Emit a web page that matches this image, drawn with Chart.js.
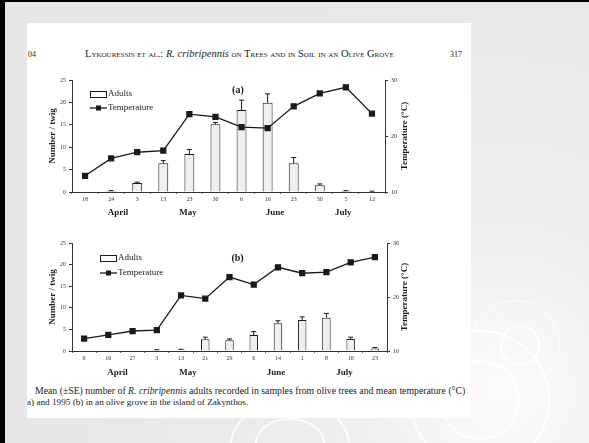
<!DOCTYPE html>
<html>
<head>
<meta charset="utf-8">
<script src="https://cdn.jsdelivr.net/npm/chart.js@4.4.1/dist/chart.umd.min.js"></script>
<style>
html, body { margin: 0; padding: 0; }
body {
    width: 589px; height: 443px; overflow: hidden; position: relative;
    background: radial-gradient(circle at 500px 390px, #fbfbfb 0, #eeeeee 170px, #e7e7e7 420px);
    font-family: "Liberation Serif", serif; color: #222;
}
#frame { position: absolute; left: 0; top: 0; width: 589px; height: 443px; box-sizing: border-box;
         border-left: 5px solid #000; border-top: 2px solid #000; }
.ring { position: absolute; border-radius: 50%; border: 2px solid rgba(255,255,255,0.85); box-sizing: border-box; }
#page { position: absolute; left: 27px; top: 23px; width: 444px; height: 395px; background: #fff; }
canvas { position: absolute; }
.t { position: absolute; white-space: nowrap; font-size: 9.2px; line-height: 10px; color: #222; }
.sc { font-variant: small-caps; }
</style>
</head>
<body>
<div class="ring" style="left:410px;top:330px;width:140px;height:140px;"></div>
<div class="ring" style="left:440px;top:360px;width:80px;height:80px;"></div>
<div class="ring" style="left:470px;top:300px;width:90px;height:90px;border-width:1px;"></div>
<div class="ring" style="left:500px;top:325px;width:40px;height:40px;"></div>
<div class="ring" style="left:230px;top:400px;width:120px;height:90px;"></div>
<div class="ring" style="left:255px;top:418px;width:70px;height:50px;"></div>
<div id="page"></div>
<div id="frame"></div>

<div class="t" style="left:28px;top:50px;font-size:8px;">04</div>
<div class="t sc" style="left:85px;top:49px;font-size:10.5px;">Lykouressis et al.: <i style="font-variant:normal">R. cribripennis</i> on Trees and in Soil in an Olive Grove</div>
<div class="t" style="left:450px;top:50px;font-size:8px;">317</div>

<canvas id="chartA" width="380" height="152" style="left:40px;top:68px;"></canvas>
<canvas id="chartB" width="380" height="150" style="left:40px;top:231px;"></canvas>

<div class="t" style="left:35px;top:386px;font-size:9.75px;">Mean (±SE) number of <i>R. cribripennis</i> adults recorded in samples from olive trees and mean temperature (°C)</div>
<div class="t" style="left:27px;top:397px;">a) and 1995 (b) in an olive grove in the island of Zakynthos.</div>

<script>
// (a) first year
const datesA = ['18', '24', '3', '13', '23', '30', '6', '16', '23', '30', '5', '12'];
const adultsA = [0, 0.2, 2.0, 6.4, 8.5, 15.1, 18.3, 19.9, 6.4, 1.5, 0.2, 0.1];
const errA = [0, 0.1, 0.2, 0.6, 1.0, 0.4, 2.2, 2.0, 1.3, 0.3, 0.1, 0.1];
const tempA = [12.9, 16.0, 17.1, 17.4, 23.9, 23.4, 21.6, 21.4, 25.3, 27.6, 28.7, 24.0];
const monthAtA = [1.26, 3.95, 7.28, 9.9];

// (b) 1995
const datesB = ['9', '16', '27', '3', '13', '21', '29', '6', '14', '1', '8', '16', '23'];
const adultsB = [0, 0, 0, 0.2, 0.3, 2.7, 2.5, 3.7, 6.4, 7.2, 7.7, 2.8, 0.6];
const errB = [0, 0, 0, 0.1, 0.1, 0.5, 0.3, 0.8, 0.6, 0.7, 1.0, 0.4, 0.2];
const tempB = [12.3, 13.0, 13.7, 13.85, 20.3, 19.7, 23.7, 22.3, 25.5, 24.4, 24.6, 26.4, 27.4];
const monthAtB = [1.375, 4.29, 7.92, 10.75];

const months = ['April', 'May', 'June', 'July'];
const adultTicks = [0, 5, 10, 15, 20, 25];
const tempTicks = [10, 20, 30];

Chart.defaults.font.family = '"Liberation Serif", serif';
Chart.defaults.color = '#333';

const ink = '#1a1a1a';

// error bars, month row, panel letter, right title and legend
const extras = {
    id: 'extras',
    afterDatasetsDraw(chart, args, o) {
        const { ctx, chartArea, scales } = chart;
        const x = scales.x, y = scales.y;
        const bars = chart.getDatasetMeta(0).data;
        const vals = chart.data.datasets[0].data;
        ctx.save();
        ctx.strokeStyle = ink;
        ctx.lineWidth = 1;
        o.err.forEach((e, i) => {
            if (!e) return;
            const px = bars[i].x;
            const y0 = y.getPixelForValue(vals[i]);
            const y1 = y.getPixelForValue(vals[i] + e);
            ctx.beginPath();
            ctx.moveTo(px, y0); ctx.lineTo(px, y1);
            ctx.moveTo(px - 2.5, y1); ctx.lineTo(px + 2.5, y1);
            ctx.stroke();
        });

        ctx.fillStyle = ink;
        ctx.textAlign = 'center';
        ctx.textBaseline = 'middle';
        ctx.font = 'bold 9px "Liberation Serif"';
        months.forEach((m, i) => ctx.fillText(m, x.getPixelForValue(o.monthAt[i]), x.top + o.monthDy));

        ctx.font = 'bold 10px "Liberation Serif"';
        ctx.fillText(o.panel, x.getPixelForValue(o.panelAt), chartArea.top + o.panelDy);

        // right axis title reads upwards like the left one
        ctx.save();
        ctx.translate(scales.y2.right - 15, (chartArea.top + chartArea.bottom) / 2);
        ctx.rotate(-Math.PI / 2);
        ctx.font = 'bold 9px "Liberation Serif"';
        ctx.fillText('Temperature (°C)', 0, 0);
        ctx.restore();

        // legend
        const lx = chartArea.left + o.legX, ly = chartArea.top + o.legY;
        ctx.fillStyle = '#fff';
        ctx.fillRect(lx, ly - 3, 17, 6);
        ctx.strokeRect(lx + 0.5, ly - 2.5, 16, 6);
        ctx.beginPath();
        ctx.lineWidth = 1.3;
        ctx.moveTo(lx, ly + o.legGap); ctx.lineTo(lx + 17, ly + o.legGap);
        ctx.stroke();
        ctx.fillStyle = ink;
        ctx.fillRect(lx + 6, ly + o.legGap - 2.5, 5, 5);
        ctx.textAlign = 'left';
        ctx.font = '9px "Liberation Serif"';
        ctx.fillText('Adults', lx + 18, ly);
        ctx.fillText('Temperature', lx + 18, ly + o.legGap);
        ctx.restore();
    }
};

function makeChart(id, dates, adults, temp, cfg) {
    new Chart(document.getElementById(id), {
        type: 'bar',
        data: {
            labels: dates,
            datasets: [{
                type: 'bar',
                label: 'Adults',
                data: adults,
                yAxisID: 'y',
                backgroundColor: '#efefef',
                borderColor: ink,
                borderWidth: 1,
                barPercentage: cfg.barPct,
                categoryPercentage: 1,
                order: 1
            }, {
                type: 'line',
                label: 'Temperature',
                data: temp,
                yAxisID: 'y2',
                borderColor: ink,
                borderWidth: 1.3,
                pointStyle: 'rect',
                pointRadius: 3.5,
                pointBackgroundColor: ink,
                pointBorderColor: ink,
                tension: 0,
                order: 0
            }]
        },
        options: {
            responsive: false,
            animation: false,
            layout: { padding: { top: cfg.top, left: 0, right: 0, bottom: 0 } },
            plugins: {
                legend: { display: false },
                tooltip: { enabled: false },
                extras: cfg.extras
            },
            scales: {
                x: {
                    offset: true,
                    afterFit(s) { s.height = cfg.xH; },
                    grid: { drawOnChartArea: false, drawTicks: true, tickLength: 2, color: '#666' },
                    border: { display: true, color: '#333', width: 1 },
                    ticks: { font: { size: 6 }, padding: 2, maxRotation: 0, autoSkip: false, color: '#333' }
                },
                y: {
                    position: 'left',
                    min: 0, max: 25,
                    afterFit(s) { s.width = 32; },
                    afterBuildTicks(s) { s.ticks = adultTicks.map(v => ({ value: v })); },
                    grid: { drawOnChartArea: false, tickLength: 3, color: '#333' },
                    border: { display: true, color: '#333', width: 1 },
                    ticks: { font: { size: 6 }, padding: 3, color: '#333' },
                    title: { display: true, text: 'Number / twig', color: ink,
                             font: { size: 9, weight: 'bold' }, padding: { top: 7, bottom: 0 } }
                },
                y2: {
                    position: 'right',
                    min: 10, max: 30,
                    afterFit(s) { s.width = cfg.rightW; },
                    afterBuildTicks(s) { s.ticks = tempTicks.map(v => ({ value: v })); },
                    grid: { drawOnChartArea: false, tickLength: 3, color: '#333' },
                    border: { display: true, color: '#333', width: 1 },
                    ticks: { font: { size: 6 }, padding: 3, color: '#333' }
                }
            }
        },
        plugins: [extras]
    });
}

makeChart('chartA', datesA, adultsA, tempA, {
    top: 12, xH: 28, rightW: 35, barPct: 0.38,
    extras: { err: errA, monthAt: monthAtA, monthDy: 21, panel: '(a)', panelAt: 5.86, panelDy: 10,
              legX: 18, legY: 14, legGap: 14 }
});

makeChart('chartB', datesB, adultsB, tempB, {
    top: 12, xH: 30, rightW: 33, barPct: 0.35,
    extras: { err: errB, monthAt: monthAtB, monthDy: 22, panel: '(b)', panelAt: 6.33, panelDy: 15,
              legX: 28, legY: 15, legGap: 15 }
});
</script>
</body>
</html>
